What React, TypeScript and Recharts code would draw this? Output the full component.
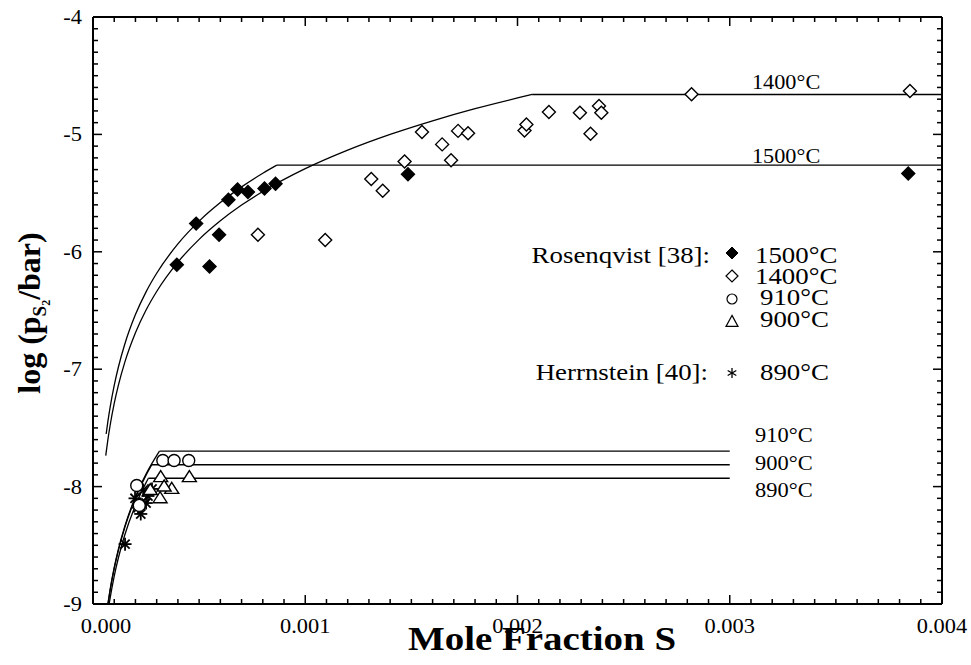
import React from 'react';
import { ComposedChart, Line, Scatter, XAxis, YAxis } from 'recharts';

const FONT = '"Liberation Serif", "Times New Roman", Times, serif';

// ---- Data (x = mole fraction S, y = log pS2/bar) ----
// Rosenqvist [38], 1500°C (filled diamonds)
const ros1500 = [
  { x: 0.395e-3, y: -6.11 }, { x: 0.486e-3, y: -5.76 }, { x: 0.549e-3, y: -6.125 },
  { x: 0.594e-3, y: -5.855 }, { x: 0.638e-3, y: -5.556 }, { x: 0.681e-3, y: -5.47 },
  { x: 0.73e-3, y: -5.49 }, { x: 0.808e-3, y: -5.46 }, { x: 0.86e-3, y: -5.42 },
  { x: 1.484e-3, y: -5.34 }, { x: 3.841e-3, y: -5.333 },
];
// Rosenqvist [38], 1400°C (open diamonds)
const ros1400 = [
  { x: 0.777e-3, y: -5.855 }, { x: 1.094e-3, y: -5.9 }, { x: 1.311e-3, y: -5.38 },
  { x: 1.365e-3, y: -5.48 }, { x: 1.468e-3, y: -5.23 }, { x: 1.55e-3, y: -4.98 },
  { x: 1.645e-3, y: -5.085 }, { x: 1.687e-3, y: -5.22 }, { x: 1.72e-3, y: -4.97 },
  { x: 1.767e-3, y: -4.99 }, { x: 2.033e-3, y: -4.966 }, { x: 2.042e-3, y: -4.915 },
  { x: 2.148e-3, y: -4.809 }, { x: 2.294e-3, y: -4.815 }, { x: 2.344e-3, y: -4.994 },
  { x: 2.384e-3, y: -4.758 }, { x: 2.395e-3, y: -4.815 }, { x: 2.82e-3, y: -4.658 },
  { x: 3.849e-3, y: -4.63 },
];
// Rosenqvist [38], 910°C (circles)
const ros910 = [
  { x: 0.329e-3, y: -7.778 }, { x: 0.382e-3, y: -7.778 }, { x: 0.451e-3, y: -7.778 },
  { x: 0.206e-3, y: -7.99 }, { x: 0.218e-3, y: -8.16 },
];
// Rosenqvist [38], 900°C (triangles)
const ros900 = [
  { x: 0.319e-3, y: -7.92 }, { x: 0.454e-3, y: -7.92 }, { x: 0.371e-3, y: -8.02 },
  { x: 0.335e-3, y: -8.0 }, { x: 0.316e-3, y: -8.1 }, { x: 0.27e-3, y: -8.03 },
];
// Herrnstein [40], 890°C (asterisks)
const her890 = [
  { x: 0.151e-3, y: -8.49 }, { x: 0.225e-3, y: -8.233 }, { x: 0.198e-3, y: -8.1 },
  { x: 0.236e-3, y: -8.03 }, { x: 0.259e-3, y: -8.08 }, { x: 0.278e-3, y: -8.02 },
  { x: 0.25e-3, y: -8.14 }, { x: 0.212e-3, y: -8.18 },
];

// Model curves
const curve1500 = [
  { x: 0.062e-3, y: -7.552 }, { x: 0.07e-3, y: -7.447 }, { x: 0.08e-3, y: -7.331 },
  { x: 0.1e-3, y: -7.137 }, { x: 0.12e-3, y: -6.979 }, { x: 0.15e-3, y: -6.785 },
  { x: 0.2e-3, y: -6.535 }, { x: 0.25e-3, y: -6.341 }, { x: 0.3e-3, y: -6.183 },
  { x: 0.4e-3, y: -5.933 }, { x: 0.5e-3, y: -5.739 }, { x: 0.6e-3, y: -5.581 },
  { x: 0.7e-3, y: -5.447 }, { x: 0.8e-3, y: -5.331 }, { x: 0.866e-3, y: -5.262 },
];
const flat1500 = [{ x: 0.866e-3, y: -5.262 }, { x: 4.0e-3, y: -5.262 }];
const curve1400 = [
  { x: 0.06e-3, y: -7.736 }, { x: 0.07e-3, y: -7.602 }, { x: 0.08e-3, y: -7.486 },
  { x: 0.1e-3, y: -7.292 }, { x: 0.12e-3, y: -7.134 }, { x: 0.15e-3, y: -6.94 },
  { x: 0.2e-3, y: -6.69 }, { x: 0.25e-3, y: -6.496 }, { x: 0.3e-3, y: -6.338 },
  { x: 0.4e-3, y: -6.088 }, { x: 0.5e-3, y: -5.894 }, { x: 0.6e-3, y: -5.736 },
  { x: 0.7e-3, y: -5.602 }, { x: 0.8e-3, y: -5.486 }, { x: 1.0e-3, y: -5.292 },
  { x: 1.2e-3, y: -5.134 }, { x: 1.4e-3, y: -5.0 }, { x: 1.6e-3, y: -4.884 },
  { x: 1.8e-3, y: -4.781 }, { x: 2.069e-3, y: -4.66 },
];
const flat1400 = [{ x: 2.069e-3, y: -4.66 }, { x: 4.0e-3, y: -4.66 }];
const curve910 = [
  { x: 0.07e-3, y: -9.0 }, { x: 0.08e-3, y: -8.883 }, { x: 0.1e-3, y: -8.689 },
  { x: 0.12e-3, y: -8.531 }, { x: 0.15e-3, y: -8.337 }, { x: 0.2e-3, y: -8.087 },
  { x: 0.25e-3, y: -7.893 }, { x: 0.313e-3, y: -7.698 },
];
const flat910 = [{ x: 0.313e-3, y: -7.698 }, { x: 3.0e-3, y: -7.698 }];
const curve900 = [
  { x: 0.0707e-3, y: -9.0 }, { x: 0.08e-3, y: -8.893 }, { x: 0.1e-3, y: -8.699 },
  { x: 0.12e-3, y: -8.541 }, { x: 0.15e-3, y: -8.347 }, { x: 0.2e-3, y: -8.097 },
  { x: 0.25e-3, y: -7.903 }, { x: 0.277e-3, y: -7.814 },
];
const flat900 = [{ x: 0.277e-3, y: -7.814 }, { x: 3.0e-3, y: -7.814 }];
const curve890 = [
  { x: 0.076e-3, y: -9.0 }, { x: 0.08e-3, y: -8.956 }, { x: 0.1e-3, y: -8.762 },
  { x: 0.12e-3, y: -8.604 }, { x: 0.15e-3, y: -8.41 }, { x: 0.2e-3, y: -8.16 },
  { x: 0.25e-3, y: -7.966 }, { x: 0.261e-3, y: -7.929 },
];
const flat890 = [{ x: 0.261e-3, y: -7.929 }, { x: 3.0e-3, y: -7.929 }];

// Ticks
const xMajorLabels = ['0.000', '0.001', '0.002', '0.003', '0.004'];
const yMajorLabels = ['-9', '-8', '-7', '-6', '-5', '-4'];
const xTicks = Array.from({ length: 41 }, (_, i) => i / 10000);
const yTicks = Array.from({ length: 51 }, (_, i) => (i - 90) / 10);

const isMajorX = (v: number) => Math.abs(v * 1000 - Math.round(v * 1000)) < 1e-6;
const isMajorY = (v: number) => Math.abs(v - Math.round(v)) < 1e-6;

const MAJ = 9;
const MIN = 5;
const TW = 1.5;

const SText = ({ x, y, sx = 1.12, anchor = 'start', size = 20, weight = 'normal', children }: any) => (
  <text
    transform={`translate(${x},${y}) scale(${sx},1)`}
    x={0}
    y={0}
    textAnchor={anchor}
    fontSize={size}
    fontFamily={FONT}
    fontWeight={weight}
    fill="#000"
  >
    {children}
  </text>
);

const BottomTick = (p: any) => {
  const v = p.payload.value;
  const major = isMajorX(v);
  const idx = Math.round(v * 1000);
  return (
    <g>
      <line x1={p.x} y1={p.y} x2={p.x} y2={p.y - (major ? MAJ : MIN)} stroke="#000" strokeWidth={TW} />
      {major && (
        <SText x={p.x + (idx === 0 ? 13 : 0)} y={p.y + 29} anchor="middle">
          {xMajorLabels[idx]}
        </SText>
      )}
    </g>
  );
};
const TopTick = (p: any) => {
  const major = isMajorX(p.payload.value);
  return <line x1={p.x} y1={p.y} x2={p.x} y2={p.y + (major ? MAJ : MIN)} stroke="#000" strokeWidth={TW} />;
};
const LeftTick = (p: any) => {
  const v = p.payload.value;
  const major = isMajorY(v);
  const idx = Math.round(v) + 9;
  return (
    <g>
      <line x1={p.x} y1={p.y} x2={p.x + (major ? MAJ : MIN)} y2={p.y} stroke="#000" strokeWidth={TW} />
      {major && (
        <SText x={p.x - 11} y={p.y + 7} anchor="end">
          {yMajorLabels[idx]}
        </SText>
      )}
    </g>
  );
};
const RightTick = (p: any) => {
  const major = isMajorY(p.payload.value);
  return <line x1={p.x} y1={p.y} x2={p.x - (major ? MAJ : MIN)} y2={p.y} stroke="#000" strokeWidth={TW} />;
};

// Marker shapes
const Diamond = ({ cx, cy, filled, r = 6.5, sw = 1.4 }: any) => (
  <polygon
    points={`${cx},${cy - r} ${cx + r},${cy} ${cx},${cy + r} ${cx - r},${cy}`}
    fill={filled ? '#000' : '#fff'}
    stroke="#000"
    strokeWidth={sw}
  />
);
const Circ = ({ cx, cy, r = 6, sw = 1.4 }: any) => (
  <circle cx={cx} cy={cy} r={r} fill="#fff" stroke="#000" strokeWidth={sw} />
);
const Tri = ({ cx, cy, w = 14, h = 11, sw = 1.4 }: any) => (
  <polygon
    points={`${cx},${cy - h * 0.6} ${cx + w / 2},${cy + h * 0.4} ${cx - w / 2},${cy + h * 0.4}`}
    fill="#fff"
    stroke="#000"
    strokeWidth={sw}
  />
);
const Star = ({ cx, cy, r = 6.5, sw = 1.8 }: any) => {
  const d = r * 0.707;
  return (
    <g stroke="#000" strokeWidth={sw}>
      <line x1={cx - r} y1={cy} x2={cx + r} y2={cy} />
      <line x1={cx} y1={cy - r} x2={cx} y2={cy + r} />
      <line x1={cx - d} y1={cy - d} x2={cx + d} y2={cy + d} />
      <line x1={cx - d} y1={cy + d} x2={cx + d} y2={cy - d} />
    </g>
  );
};
const LegendStar = ({ cx, cy, r = 5 }: any) => {
  const dx = r * 0.866;
  const dy = r * 0.5;
  return (
    <g stroke="#000" strokeWidth={1.3}>
      <line x1={cx} y1={cy - r} x2={cx} y2={cy + r} />
      <line x1={cx - dx} y1={cy - dy} x2={cx + dx} y2={cy + dy} />
      <line x1={cx - dx} y1={cy + dy} x2={cx + dx} y2={cy - dy} />
    </g>
  );
};

const W = 971;
const H = 665;

const lineProps = {
  dataKey: 'y',
  stroke: '#000',
  strokeWidth: 1.3,
  dot: false,
  activeDot: false,
  isAnimationActive: false,
  legendType: 'none' as const,
};

export default function App() {
  return (
    <div style={{ position: 'absolute', left: 0, top: 0, width: W, height: H, background: '#fff' }}>
      <ComposedChart width={W} height={H} margin={{ top: 16, right: 28, bottom: 60, left: 92 }}>
        <XAxis
          xAxisId="b"
          dataKey="x"
          type="number"
          domain={[0, 0.004]}
          allowDataOverflow
          ticks={xTicks}
          interval={0}
          height={1}
          tickSize={0}
          tickMargin={0}
          tickLine={false}
          axisLine={{ stroke: '#000', strokeWidth: 2 }}
          tick={<BottomTick />}
        />
        <XAxis
          xAxisId="t"
          orientation="top"
          dataKey="x"
          type="number"
          domain={[0, 0.004]}
          allowDataOverflow
          ticks={xTicks}
          interval={0}
          height={1}
          tickSize={0}
          tickMargin={0}
          tickLine={false}
          axisLine={{ stroke: '#000', strokeWidth: 2 }}
          tick={<TopTick />}
        />
        <YAxis
          yAxisId="l"
          dataKey="y"
          type="number"
          domain={[-9, -4]}
          allowDataOverflow
          ticks={yTicks}
          interval={0}
          width={1}
          tickSize={0}
          tickMargin={0}
          tickLine={false}
          axisLine={{ stroke: '#000', strokeWidth: 2 }}
          tick={<LeftTick />}
        />
        <YAxis
          yAxisId="r"
          orientation="right"
          dataKey="y"
          type="number"
          domain={[-9, -4]}
          allowDataOverflow
          ticks={yTicks}
          interval={0}
          width={1}
          tickSize={0}
          tickMargin={0}
          tickLine={false}
          axisLine={{ stroke: '#000', strokeWidth: 2 }}
          tick={<RightTick />}
        />

        <Line {...lineProps} xAxisId="b" yAxisId="l" data={curve1500} type="monotone" />
        <Line {...lineProps} xAxisId="b" yAxisId="l" data={flat1500} type="linear" />
        <Line {...lineProps} xAxisId="b" yAxisId="l" data={curve1400} type="monotone" />
        <Line {...lineProps} xAxisId="b" yAxisId="l" data={flat1400} type="linear" />
        <Line {...lineProps} xAxisId="b" yAxisId="l" data={curve910} type="monotone" />
        <Line {...lineProps} xAxisId="b" yAxisId="l" data={flat910} type="linear" />
        <Line {...lineProps} xAxisId="b" yAxisId="l" data={curve900} type="monotone" />
        <Line {...lineProps} xAxisId="b" yAxisId="l" data={flat900} type="linear" />
        <Line {...lineProps} xAxisId="b" yAxisId="l" data={curve890} type="monotone" />
        <Line {...lineProps} xAxisId="b" yAxisId="l" data={flat890} type="linear" />

        <Scatter xAxisId="b" yAxisId="l" data={ros1400} isAnimationActive={false}
          shape={(p: any) => <Diamond cx={p.cx} cy={p.cy} />} />
        <Scatter xAxisId="b" yAxisId="l" data={ros1500} isAnimationActive={false}
          shape={(p: any) => <Diamond cx={p.cx} cy={p.cy} filled />} />
        <Scatter xAxisId="b" yAxisId="l" data={her890} isAnimationActive={false}
          shape={(p: any) => <Star cx={p.cx} cy={p.cy} />} />
        <Scatter xAxisId="b" yAxisId="l" data={ros900} isAnimationActive={false}
          shape={(p: any) => <Tri cx={p.cx} cy={p.cy} />} />
        <Scatter xAxisId="b" yAxisId="l" data={ros910} isAnimationActive={false}
          shape={(p: any) => <Circ cx={p.cx} cy={p.cy} />} />
      </ComposedChart>

      <svg width={W} height={H} style={{ position: 'absolute', left: 0, top: 0, pointerEvents: 'none' }}>
        {/* axis titles */}
        <text
          transform="translate(40,313) rotate(-90)"
          textAnchor="middle"
          fontSize={32}
          fontWeight="bold"
          fontFamily={FONT}
          fill="#000"
        >
          log (p<tspan fontSize={19} dy={6}>S</tspan>
          <tspan fontSize={12} dy={4}>2</tspan>
          <tspan dy={-10}>/bar)</tspan>
        </text>
        <SText x={542} y={650} anchor="middle" size={33} weight="bold" sx={1.18}>
          Mole Fraction S
        </SText>

        {/* curve labels */}
        <SText x={752} y={89} size={21} sx={1.06}>1400°C</SText>
        <SText x={752} y={163} size={21} sx={1.06}>1500°C</SText>
        <SText x={755} y={442} size={21} sx={1.07}>910°C</SText>
        <SText x={755} y={470} size={21} sx={1.07}>900°C</SText>
        <SText x={755} y={497} size={21} sx={1.07}>890°C</SText>

        {/* legend */}
        <SText x={710} y={263} size={24} anchor="end">Rosenqvist [38]:</SText>
        <SText x={708} y={380} size={24} anchor="end">Herrnstein [40]:</SText>
        <Diamond cx={732} cy={253} r={6} filled sw={1} />
        <Diamond cx={732} cy={276} r={6} sw={1.2} />
        <Circ cx={732} cy={299} r={5} sw={1.2} />
        <Tri cx={732} cy={322} w={12} h={11} sw={1.2} />
        <LegendStar cx={732} cy={373} r={5} />
        <SText x={755} y={263} size={24}>1500°C</SText>
        <SText x={755} y={284} size={24}>1400°C</SText>
        <SText x={760} y={305} size={24}>910°C</SText>
        <SText x={760} y={327} size={24}>900°C</SText>
        <SText x={760} y={380} size={24}>890°C</SText>
      </svg>
    </div>
  );
}
